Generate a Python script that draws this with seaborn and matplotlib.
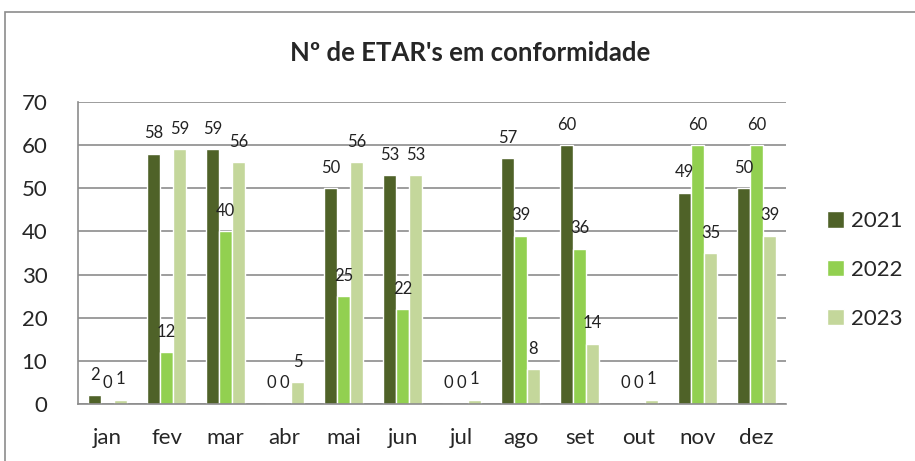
import matplotlib
matplotlib.use("Agg")
import matplotlib.pyplot as plt
import seaborn as sns
import pandas as pd
from matplotlib.patches import Rectangle

# Monthly count of compliant wastewater treatment plants
months = ["jan", "fev", "mar", "abr", "mai", "jun", "jul", "ago", "set", "out", "nov", "dez"]
years = ["2021", "2022", "2023"]
v2021 = [2, 58, 59, 0, 50, 53, 0, 57, 60, 0, 49, 50]
v2022 = [0, 12, 40, 0, 25, 22, 0, 39, 36, 0, 60, 60]
v2023 = [1, 59, 56, 5, 56, 53, 1, 8, 14, 1, 35, 39]
colors = ["#4F6228", "#92D050", "#C4D79B"]
yticks = [0, 10, 20, 30, 40, 50, 60, 70]
title = "Nº de ETAR's em conformidade"

rows = []
for yr, vals in zip(years, [v2021, v2022, v2023]):
    for m, v in zip(months, vals):
        rows.append({"mes": m, "ano": yr, "valor": v})
df = pd.DataFrame(rows)

sns.set_style("white")
plt.rcParams["font.family"] = ["Lato", "DejaVu Sans"]

fig = plt.figure(figsize=(9.15, 4.61), dpi=100)
ax = fig.add_axes([78 / 915, 1 - 404 / 461, (786 - 78) / 915, (404 - 102) / 461])

sns.barplot(data=df, x="mes", y="valor", hue="ano", order=months, hue_order=years,
            palette=colors, width=0.66, saturation=1, ax=ax, legend=True)

for cont in ax.containers:
    ax.bar_label(cont, padding=9, fontsize=12, color="#222222")

ax.set_ylim(0, 70)
ax.set_yticks(yticks)
ax.set_xlim(-0.5, len(months) - 0.5)
ax.set_xlabel("")
ax.set_ylabel("")
ax.yaxis.grid(True, color="#8C8C8C", linewidth=1.2)
ax.set_axisbelow(True)
for s in ["top", "right"]:
    ax.spines[s].set_visible(False)
for s in ["left", "bottom"]:
    ax.spines[s].set_color("#8C8C8C")
    ax.spines[s].set_linewidth(1.2)
ax.tick_params(axis="y", length=0, pad=22, labelsize=16)
ax.tick_params(axis="x", length=0, pad=17, labelsize=16)

leg = ax.legend(loc="center left", bbox_to_anchor=(807 / 915, 1 - 270 / 461),
                bbox_transform=fig.transFigure, frameon=False, fontsize=16,
                handlelength=0.75, handleheight=0.75, labelspacing=1.3,
                handletextpad=0.35)

fig.text(470 / 915, 1 - 53 / 461, title, ha="center", va="center",
         fontsize=18.5, fontweight="bold")

# outer chart frame
fig.patches.append(Rectangle((5 / 915, -0.05), 1.2, 1 - 12 / 461 + 0.05,
                             transform=fig.transFigure, fill=False,
                             edgecolor="#8C8C8C", linewidth=1.2))

fig.savefig("out.png", dpi=100)
